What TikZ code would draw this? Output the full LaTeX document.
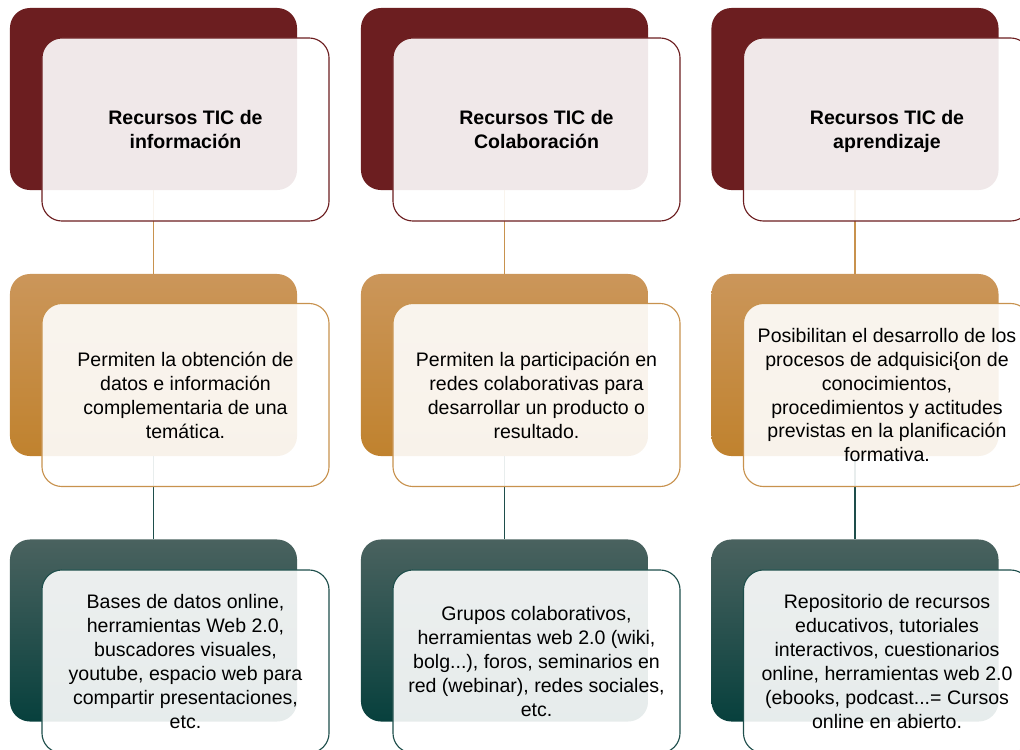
\documentclass[tikz,border=0pt]{standalone}
\usepackage{fontspec}
\setmainfont{Liberation Sans}
\usepackage{tikz}

\definecolor{rojo}{HTML}{6C1E20}
\definecolor{ocreA}{HTML}{CB965A}
\definecolor{ocreB}{HTML}{C0822E}
\definecolor{ocre}{HTML}{C8924E}
\definecolor{verdeA}{HTML}{4A625F}
\definecolor{verdeB}{HTML}{07403D}
\definecolor{verde}{HTML}{1E4E4B}

\tikzset{
   fondo/.style={rectangle, rounded corners=0.5cm, minimum width=7.175cm, minimum height=4.55cm, inner sep=0pt},
   tarjeta/.style={rectangle, rounded corners=0.5cm, minimum width=7.175cm, minimum height=4.575cm, inner sep=0pt,
      fill=white, fill opacity=0.9, text opacity=1, line width=0.8pt, align=center, text depth=0pt,
      font=\fontsize{13.9}{17}\selectfont},
   linea/.style={line width=0.8pt}
}

\begin{document}
\begin{tikzpicture}[x=0.025cm, y=-0.025cm]
   \useasboundingbox (0,0) rectangle (1020,750);
   \clip (0,0) rectangle (1020,750);

   % fondos
   \node[fondo, fill=rojo](info) at (153.5,99) {};
   \node[fondo, fill=rojo](colab) at (504.5,99) {};
   \node[fondo, fill=rojo](aprend) at (855,99) {};
   \node[fondo, top color=ocreA, bottom color=ocreB](infodesc) at (153.5,365) {};
   \node[fondo, top color=ocreA, bottom color=ocreB](colabdesc) at (504.5,365) {};
   \node[fondo, top color=ocreA, bottom color=ocreB](aprenddesc) at (855,365) {};
   \node[fondo, top color=verdeA, bottom color=verdeB](infoej) at (153.5,630.5) {};
   \node[fondo, top color=verdeA, bottom color=verdeB](colabej) at (504.5,630.5) {};
   \node[fondo, top color=verdeA, bottom color=verdeB](aprendej) at (855,630.5) {};

   \draw[linea, ocre](info) to (infodesc);
   \draw[linea, ocre](colab) to (colabdesc);
   \draw[linea, ocre](aprend) to (aprenddesc);
   \draw[linea, verde](infodesc) to (infoej);
   \draw[linea, verde](colabdesc) to (colabej);
   \draw[linea, verde](aprenddesc) to (aprendej);

   % tarjetas
   \node[tarjeta, draw=rojo](infobox) at (185.5,129.5) {\textbf{Recursos TIC de}\\\textbf{información}};
   \node[tarjeta, draw=rojo](colabbox) at (536.5,129.5) {\textbf{Recursos TIC de}\\\textbf{Colaboración}};
   \node[tarjeta, draw=rojo](aprendbox) at (887,129.5) {\textbf{Recursos TIC de}\\\textbf{aprendizaje}};
   \node[tarjeta, draw=ocre](infodescbox) at (185.5,395) {Permiten la obtención de\\datos e información\\complementaria de una\\temática.};
   \node[tarjeta, draw=ocre](colabdescbox) at (536.5,395) {Permiten la participación en\\redes colaborativas para\\desarrollar un producto o\\resultado.};
   \node[tarjeta, draw=ocre](aprenddescbox) at (887,395) {Posibilitan el desarrollo de los\\procesos de adquisici\{on de\\conocimientos,\\procedimientos y actitudes\\previstas en la planificación\\formativa.};
   \node[tarjeta, draw=verde](infoejbox) at (185.5,661.5) {Bases de datos online,\\herramientas Web 2.0,\\buscadores visuales,\\youtube, espacio web para\\compartir presentaciones,\\etc.};
   \node[tarjeta, draw=verde](colabejbox) at (536.5,661.5) {Grupos colaborativos,\\herramientas web 2.0 (wiki,\\bolg...), foros, seminarios en\\red (webinar), redes sociales,\\etc.};
   \node[tarjeta, draw=verde](aprendejbox) at (887,661.5) {Repositorio de recursos\\educativos, tutoriales\\interactivos, cuestionarios\\online, herramientas web 2.0\\(ebooks, podcast...= Cursos\\online en abierto.};
\end{tikzpicture}
\end{document}
